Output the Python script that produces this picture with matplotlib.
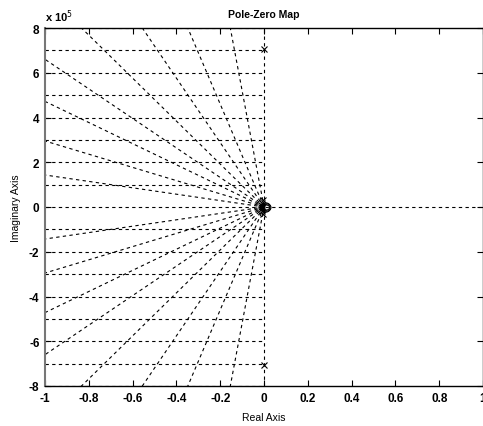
import numpy as np
import matplotlib
matplotlib.use("Agg")
import matplotlib.pyplot as plt

# pole / zero locations (imag part in units of 1e5)
pole_re = [0.0, 0.0, -0.015, -0.015, -0.015, -0.01, -0.01, -0.005, -0.005]
pole_im = [7.08, -7.08, 0.0, 0.1, -0.1, 0.2, -0.2, 0.3, -0.3]
zero_re = [0.012, 0.008, 0.008]
zero_im = [0.0, 0.06, -0.06]

# damping lines: imag/real slope (x1e5)
damp_slopes = [1.43, 2.95, 4.72, 6.6, 9.6, 14.4, 23.0, 52.0]
# natural frequency lines (x1e5)
wn_levels = [1, 2, 3, 4, 5, 6, 7, 8]

xticks = [-1, -0.8, -0.6, -0.4, -0.2, 0, 0.2, 0.4, 0.6, 0.8, 1]
yticks = [-8, -6, -4, -2, 0, 2, 4, 6, 8]

plt.rcParams['font.family'] = ['Liberation Sans', 'DejaVu Sans']

fig = plt.figure(figsize=(4.83, 4.27), dpi=100)
ax = fig.add_axes([45/483, 40/427, 438/483, 358/427])

dash = dict(color='black', lw=0.8, ls=(0, (3, 3)))

# grid: damping rays
for s in damp_slopes:
    for sign in (1, -1):
        ax.plot([0, -20], [0, sign*20*s], **dash)
# grid: wn lines
for w in wn_levels:
    for sign in (1, -1):
        ax.plot([-1, 0], [sign*w, sign*w], **dash)
ax.plot([-1, 1], [0, 0], **dash)
ax.plot([0, 0], [-8, 8], **dash)

ax.plot(pole_re, pole_im, 'x', color='black', ms=5, mew=0.8)
ax.plot(zero_re, zero_im, 'o', mfc='none', mec='black', ms=5, mew=0.8)

ax.set_xlim(-1, 1)
ax.set_ylim(-8, 8)
ax.set_xticks(xticks)
ax.set_yticks(yticks)
ax.set_xticklabels(['-1', '-0.8', '-0.6', '-0.4', '-0.2', '0', '0.2', '0.4', '0.6', '0.8', '1'])
ax.set_yticklabels([str(t) for t in yticks])
ax.tick_params(direction='in', top=True, right=True, length=4, labelsize=8.5, pad=4)
for lab in ax.get_xticklabels() + ax.get_yticklabels():
    lab.set_fontweight('bold')
for sp in ax.spines.values():
    sp.set_linewidth(1.0)
ax.spines['left'].set_color('#777777')
ax.spines['left'].set_linewidth(1.5)

ax.set_title('Pole-Zero Map', fontsize=7.5, fontweight='bold', pad=8)
ax.set_xlabel('Real Axis', fontsize=7.5, labelpad=6)
ax.set_ylabel('Imaginary Axis', fontsize=7.5, labelpad=6)
ax.text(0.0, 1.01, r'x 10$^5$', transform=ax.transAxes, fontsize=8, fontweight='bold',
        ha='left', va='bottom')

fig.savefig('out.png', dpi=100)
